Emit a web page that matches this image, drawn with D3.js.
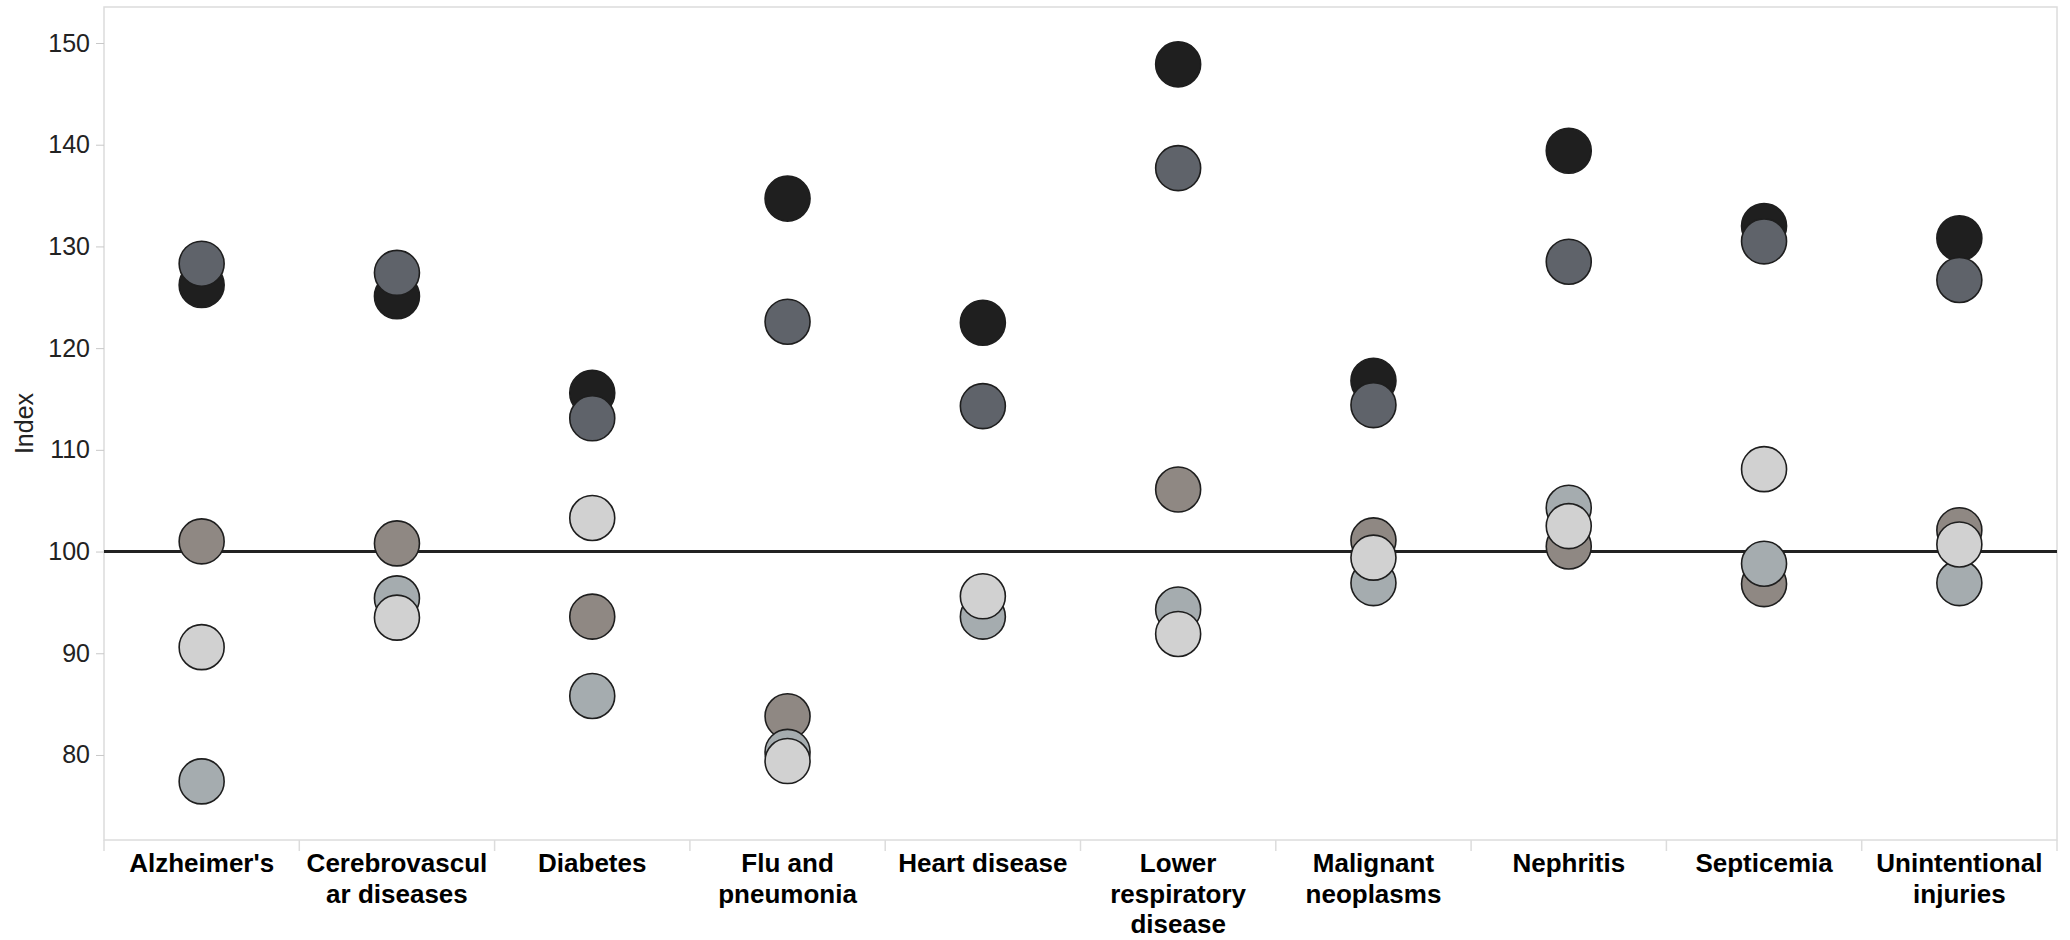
<!DOCTYPE html>
<html>
<head>
<meta charset="utf-8">
<script src="https://cdn.jsdelivr.net/npm/d3@7"></script>
<style>
  html, body { margin: 0; padding: 0; background: #fff; }
  svg { display: block; font-family: "Liberation Sans", Arial, sans-serif; }
</style>
</head>
<body>
<div id="chart"></div>
<script>
// categories and their wrapped tick labels
var categories = ["Alzheimer's", "Cerebrovascular diseases", "Diabetes", "Flu and pneumonia",
  "Heart disease", "Lower respiratory disease", "Malignant neoplasms", "Nephritis",
  "Septicemia", "Unintentional injuries"];
var labelLines = [["Alzheimer's"], ["Cerebrovascul", "ar diseases"], ["Diabetes"], ["Flu and", "pneumonia"],
  ["Heart disease"], ["Lower", "respiratory", "disease"], ["Malignant", "neoplasms"], ["Nephritis"],
  ["Septicemia"], ["Unintentional", "injuries"]];
var yTicks = [80, 90, 100, 110, 120, 130, 140, 150];

// series values (index), one per category; null = not shown
var group1 = [126.2, 125.1, 115.6, 134.7, 122.5, 147.9, 116.8, 139.4, 132.0, 130.8];
var group2 = [128.3, 127.4, 113.1, 122.6, 114.3, 137.7, 114.4, 128.5, 130.5, 126.7];
var group3 = [101.0, 100.8, 93.6, 83.8, null, 106.1, 101.1, 100.5, 96.8, 102.1];
var group4 = [77.4, 95.4, 85.8, 80.3, 93.6, 94.3, 96.9, 104.3, 98.8, 96.9];
var group5 = [90.6, 93.5, 103.3, 79.4, 95.6, 91.9, 99.4, 102.5, 108.1, 100.7];

var seriesNames = ["Group 1", "Group 2", "Group 3", "Group 4", "Group 5"];
var seriesValues = [group1, group2, group3, group4, group5];
var seriesColors = ["#1f1f1f", "#5f636a", "#8f8883", "#a5acaf", "#d1d1d1"];

var W = 2070, H = 940;
var plotL = 104, plotR = 2057, plotT = 7, plotB = 840;

var svg = d3.select("#chart").append("svg")
  .attr("width", W).attr("height", H);

var x = d3.scaleBand().domain(categories).range([plotL, plotR]).padding(0);
var y = d3.scaleLinear().domain([71.64, 153.54]).range([plotB, plotT]);

// plot frame
svg.append("rect")
  .attr("x", plotL).attr("y", plotT)
  .attr("width", plotR - plotL).attr("height", plotB - plotT)
  .attr("fill", "none").attr("stroke", "#dcdcdc").attr("stroke-width", 1.5);

// y axis
var yAxis = svg.append("g")
  .attr("transform", "translate(" + plotL + ",0)")
  .call(d3.axisLeft(y).tickValues(yTicks).tickSize(8).tickPadding(6));
yAxis.select(".domain").remove();
yAxis.selectAll(".tick line").attr("stroke", "#c8c8c8");
yAxis.selectAll(".tick text")
  .attr("font-size", 25).attr("fill", "#222")
  .attr("font-family", "'Liberation Sans', Arial, sans-serif");

svg.append("text")
  .attr("transform", "translate(33," + ((plotT + plotB) / 2) + ") rotate(-90)")
  .attr("text-anchor", "middle")
  .attr("font-size", 25).attr("fill", "#222")
  .text("Index");

// category separators below the axis
var bounds = categories.map(function (c) { return x(c); }).concat([plotR]);
svg.append("g").selectAll("line")
  .data(bounds).join("line")
  .attr("x1", function (d) { return d; }).attr("x2", function (d) { return d; })
  .attr("y1", plotB).attr("y2", plotB + 11)
  .attr("stroke", "#dcdcdc").attr("stroke-width", 1.5);

// x labels
var xAxis = svg.append("g")
  .attr("transform", "translate(0," + plotB + ")")
  .call(d3.axisBottom(x).tickSize(0).tickFormat(""));
xAxis.select(".domain").remove();
xAxis.selectAll(".tick").each(function (d, i) {
  var t = d3.select(this).append("text")
    .attr("text-anchor", "middle")
    .attr("font-size", 26).attr("font-weight", "bold").attr("fill", "#000")
    .attr("font-family", "'Liberation Sans', Arial, sans-serif");
  labelLines[i].forEach(function (line, j) {
    t.append("tspan").attr("x", 0).attr("y", 32 + j * 30.5).text(line);
  });
});

// reference line at 100
svg.append("line")
  .attr("x1", plotL).attr("x2", plotR)
  .attr("y1", y(100)).attr("y2", y(100))
  .attr("stroke", "#222").attr("stroke-width", 3);

// dots, drawn series by series
seriesValues.forEach(function (vals, s) {
  var pts = vals.map(function (v, i) { return { cat: categories[i], v: v, s: seriesNames[s] }; })
    .filter(function (p) { return p.v !== null; });
  svg.append("g").selectAll("circle")
    .data(pts).join("circle")
    .attr("cx", function (d) { return x(d.cat) + x.bandwidth() / 2; })
    .attr("cy", function (d) { return y(d.v); })
    .attr("r", 22.5)
    .attr("fill", seriesColors[s])
    .attr("stroke", "#1e1e1e").attr("stroke-width", 1.6);
});
</script>
</body>
</html>
